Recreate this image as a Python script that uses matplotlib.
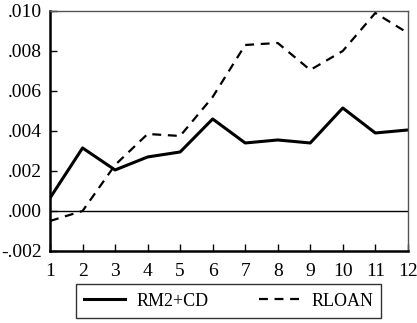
import numpy as np
import matplotlib
matplotlib.use("Agg")
import matplotlib.pyplot as plt
from matplotlib.ticker import FuncFormatter

months = np.arange(1, 13)
rm2_cd = [0.00065, 0.00315, 0.00205, 0.0027, 0.00295, 0.0046,
          0.0034, 0.00355, 0.0034, 0.00515, 0.0039, 0.00405]
rloan = [-0.0005, 0.0, 0.0023, 0.00385, 0.00375, 0.0057,
         0.0083, 0.0084, 0.00705, 0.008, 0.0099, 0.0089]

plt.rcParams['font.family'] = ['Liberation Serif', 'DejaVu Serif']

fig = plt.figure(figsize=(4.17, 3.23), dpi=100)
ax = fig.add_axes([0.12, 0.223, 0.858, 0.743])

l1, = ax.plot(months, rm2_cd, color='black', lw=2.2, label='RM2+CD')
l2, = ax.plot(months, rloan, color='black', lw=1.6, ls=(0, (4, 3)), label='RLOAN')
ax.axhline(0, color='black', lw=1)

ax.set_xlim(1, 12)
ax.set_ylim(-0.002, 0.010)
ax.set_xticks(months)
ax.set_yticks(np.arange(-0.002, 0.0101, 0.002))

def fmt(v, pos):
    s = f"{v:.3f}"
    return s.replace("0.", ".", 1)
ax.yaxis.set_major_formatter(FuncFormatter(fmt))
ax.tick_params(direction='in', length=5, labelsize=14, width=1)
ax.tick_params(axis='y', pad=6)
ax.tick_params(axis='x', pad=9)

for s in ['left', 'bottom']:
    ax.spines[s].set_linewidth(1.8)
for s in ['top', 'right']:
    ax.spines[s].set_linewidth(1)
    ax.spines[s].set_color('#555555')

leg = fig.legend(handles=[l1, l2], loc='center', bbox_to_anchor=(0.548, 0.068),
                 ncol=2, frameon=True, fancybox=False, edgecolor='black',
                 fontsize=13, handlelength=2.3, handletextpad=0.6,
                 columnspacing=2.8, borderpad=0.45, borderaxespad=0)
leg.get_frame().set_linewidth(1)

fig.savefig("out.png", dpi=100)
